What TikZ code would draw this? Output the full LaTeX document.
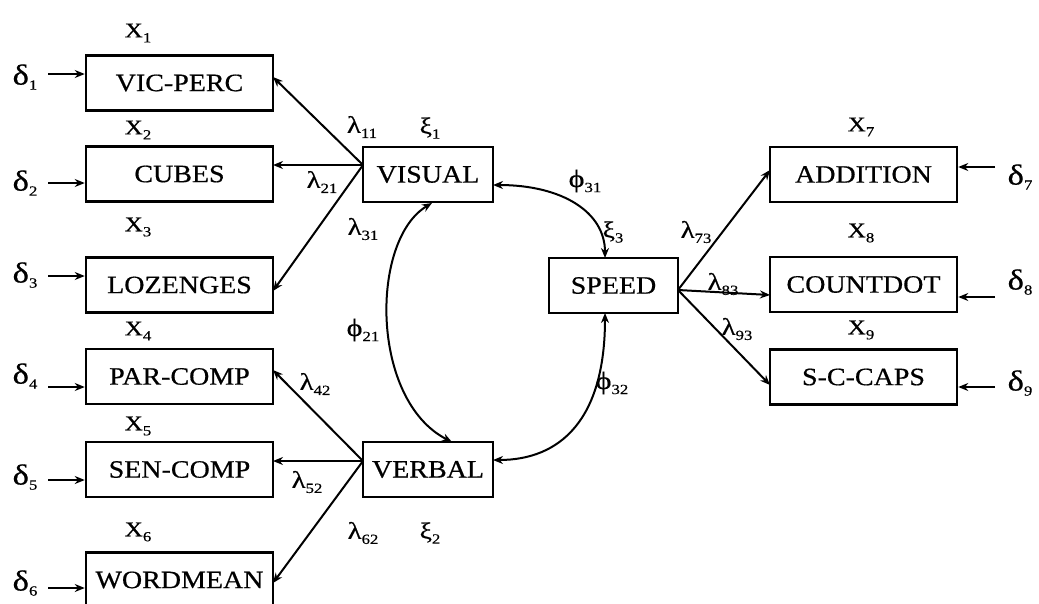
\documentclass[tikz,border=0pt]{standalone}
\usepackage{fontspec}
\setmainfont{Liberation Serif}
\newfontfamily\boxfont[FakeStretch=1.12,FakeBold=0.6]{Liberation Serif}
\newfontfamily\labfont[FakeStretch=1.2,FakeBold=0.5]{Liberation Serif}
\usetikzlibrary{arrows.meta}
\newcommand\lab[3][22]{{\fontsize{#1}{#1}\selectfont #2}\raisebox{-0.5ex}{\fontsize{14}{14}\selectfont #3}}
\begin{document}
\begin{tikzpicture}[x=1pt,y=-1pt,
  obs/.style={draw, line width=2.5pt, minimum width=187pt, minimum height=55pt, inner sep=0pt, font=\boxfont\fontsize{25}{25}\selectfont},
  lat/.style={draw, line width=2.5pt, minimum width=130pt, minimum height=55pt, inner sep=0pt, font=\boxfont\fontsize{25}{25}\selectfont},
  lbl/.style={inner sep=0pt, font=\labfont\fontsize{22}{22}\selectfont},
  arr/.style={line width=2pt, -{Stealth[length=10pt,width=8pt]}},
  darr/.style={line width=2pt, {Stealth[length=10pt,width=8pt]}-{Stealth[length=10pt,width=8pt]}}]
\useasboundingbox (0,0) rectangle (1039,603);
% observed boxes left
\node[obs] (vp) at (179.5,83) {VIC-PERC};
\node[obs] (cu) at (179.5,174) {CUBES};
\node[obs] (lo) at (179.5,285) {LOZENGES};
\node[obs] (pc) at (179.5,376.5) {PAR-COMP};
\node[obs] (sc) at (179.5,469.5) {SEN-COMP};
\node[obs] (wm) at (179.5,580) {WORDMEAN};
% latent
\node[lat] (vis) at (428,174.5) {VISUAL};
\node[lat] (ver) at (428,469.5) {VERBAL};
\node[lat, minimum width=129pt] (spd) at (613.5,285.5) {SPEED};
% observed right
\node[obs] (ad) at (863.5,174.5) {ADDITION};
\node[obs] (cd) at (863.5,284.5) {COUNTDOT};
\node[obs] (scc) at (863.5,377) {S-C-CAPS};
% X labels
\node[lbl] (x1) at (138,33) {\lab[21]{X}{1}};
\node[lbl] (x2) at (138,130) {\lab[21]{X}{2}};
\node[lbl] (x3) at (138,227) {\lab[21]{X}{3}};
\node[lbl] (x4) at (138,331) {\lab[21]{X}{4}};
\node[lbl] (x5) at (138,426) {\lab[21]{X}{5}};
\node[lbl] (x6) at (138,532) {\lab[21]{X}{6}};
\node[lbl] (x7) at (861,127) {\lab[21]{X}{7}};
\node[lbl] (x8) at (861,233) {\lab[21]{X}{8}};
\node[lbl] (x9) at (861,330) {\lab[21]{X}{9}};
% delta labels
\node[lbl] (d1) at (25,77) {\lab[29]{δ}{1}};
\node[lbl] (d2) at (25,183) {\lab[29]{δ}{2}};
\node[lbl] (d3) at (25,275) {\lab[29]{δ}{3}};
\node[lbl] (d4) at (25,376) {\lab[29]{δ}{4}};
\node[lbl] (d5) at (25,477) {\lab[29]{δ}{5}};
\node[lbl] (d6) at (25,583) {\lab[29]{δ}{6}};
\node[lbl] (d7) at (1020,177) {\lab[29]{δ}{7}};
\node[lbl] (d8) at (1020,282) {\lab[29]{δ}{8}};
\node[lbl] (d9) at (1020,383) {\lab[29]{δ}{9}};
% error arrows
\coordinate (e1) at (48,74);
\coordinate (e2) at (48,183);
\coordinate (e3) at (48,276);
\coordinate (e4) at (48,387);
\coordinate (e5) at (48,480);
\coordinate (e6) at (48,588);
\coordinate (e7) at (995,167);
\coordinate (e8) at (995,297);
\coordinate (e9) at (995,387);
\draw[arr] (e1) -- (vp.west |- e1);
\draw[arr] (e2) -- (cu.west |- e2);
\draw[arr] (e3) -- (lo.west |- e3);
\draw[arr] (e4) -- (pc.west |- e4);
\draw[arr] (e5) -- (sc.west |- e5);
\draw[arr] (e6) -- (wm.west |- e6);
\draw[arr] (e7) -- (ad.east |- e7);
\draw[arr] (e8) -- (cd.east |- e8);
\draw[arr] (e9) -- (scc.east |- e9);
% loadings
\coordinate (va) at (363,165);
\coordinate (ra) at (363,461);
\coordinate (sa) at (678,290);
\coordinate (t1) at (273,77);
\coordinate (t2) at (273,165);
\coordinate (t3) at (273,291);
\coordinate (t4) at (273,370);
\coordinate (t5) at (273,461);
\coordinate (t6) at (273,583);
\coordinate (t7) at (770,170);
\coordinate (t8) at (770,295);
\coordinate (t9) at (770,385);
\draw[arr] (va) -- (t1);
\draw[arr] (va) -- (t2);
\draw[arr] (va) -- (t3);
\draw[arr] (ra) -- (t4);
\draw[arr] (ra) -- (t5);
\draw[arr] (ra) -- (t6);
\draw[arr] (sa) -- (t7);
\draw[arr] (sa) -- (t8);
\draw[arr] (sa) -- (t9);
% covariances
\coordinate (c1) at (432,203);
\coordinate (c2) at (452,442);
\coordinate (c3) at (493,185);
\coordinate (c4) at (605,258);
\coordinate (c5) at (605,313);
\coordinate (c6) at (493,460);
\draw[darr] (c1) .. controls (370,240) and (370,400) .. (c2);
\draw[darr] (c3) .. controls (562,185) and (605,212) .. (c4);
\draw[darr] (c5) .. controls (605,420) and (560,460) .. (c6);
% parameter labels
\node[lbl] (l11) at (362,127) {\lab[24]{λ}{11}};
\node[lbl] (k1) at (430,128) {\lab[23]{ξ}{1}};
\node[lbl] (l21) at (322,182) {\lab[24]{λ}{21}};
\node[lbl] (l31) at (363,229) {\lab[24]{λ}{31}};
\node[lbl] (p31) at (585,181) {\lab[25]{ϕ}{31}};
\node[lbl] (k3) at (613,232) {\lab[23]{ξ}{3}};
\node[lbl] (p21) at (363,330) {\lab[25]{ϕ}{21}};
\node[lbl] (p32) at (612,383) {\lab[25]{ϕ}{32}};
\node[lbl] (l42) at (315,384) {\lab[24]{λ}{42}};
\node[lbl] (l52) at (307,482) {\lab[24]{λ}{52}};
\node[lbl] (l62) at (363,533) {\lab[24]{λ}{62}};
\node[lbl] (k2) at (430,533) {\lab[23]{ξ}{2}};
\node[lbl] (l73) at (696,232) {\lab[24]{λ}{73}};
\node[lbl] (l83) at (723,284) {\lab[24]{λ}{83}};
\node[lbl] (l93) at (737,329) {\lab[24]{λ}{93}};
\end{tikzpicture}
\end{document}
